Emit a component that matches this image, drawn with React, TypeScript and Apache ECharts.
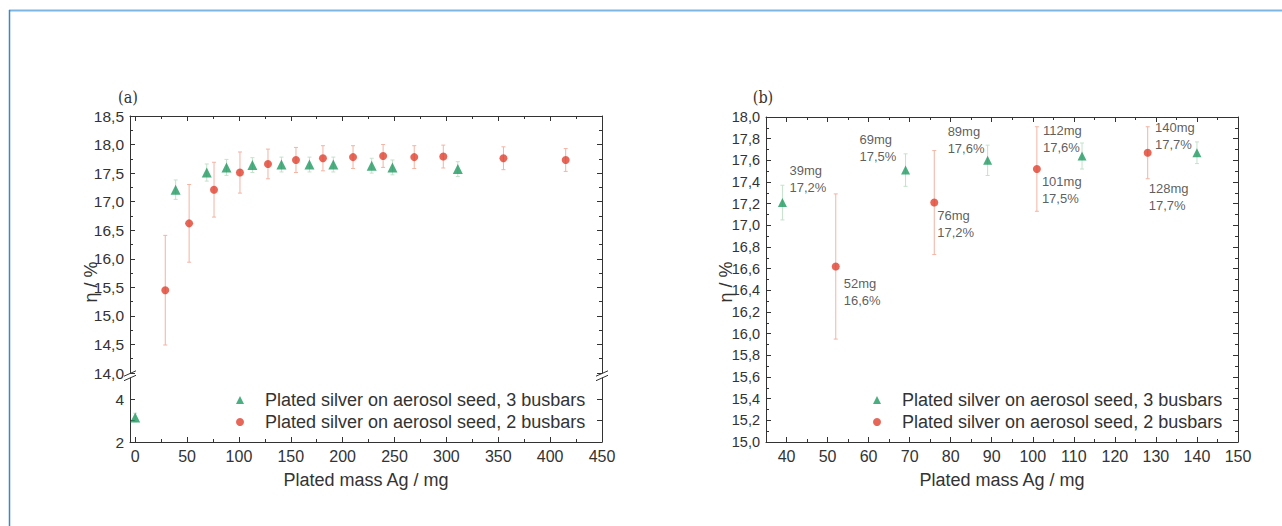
import React, { useEffect, useRef } from 'react';
import * as echarts from 'echarts';

const NAME_3BB = 'Plated silver on aerosol seed, 3 busbars';
const NAME_2BB = 'Plated silver on aerosol seed, 2 busbars';

// ---- Panel (a) data ----
const aMass3 = [39, 69, 88, 113, 141, 168, 191, 228, 248, 311];
const aEta3 = [17.21, 17.51, 17.6, 17.64, 17.65, 17.65, 17.65, 17.63, 17.6, 17.57];
const aErr3 = [0.17, 0.15, 0.14, 0.13, 0.13, 0.13, 0.13, 0.13, 0.13, 0.13];
const aSeedMass = [0];
const aSeedEta = [3.15];
const aSeedErr = [0.2];
const aMass2 = [29, 52, 76, 101, 128, 155, 181, 210, 239, 269, 297, 355, 415];
const aEta2 = [15.45, 16.62, 17.21, 17.51, 17.66, 17.73, 17.76, 17.78, 17.8, 17.78, 17.79, 17.76, 17.73];
const aErr2 = [0.96, 0.68, 0.48, 0.36, 0.26, 0.22, 0.22, 0.2, 0.2, 0.2, 0.2, 0.2, 0.2];

const aXTicks = [0, 50, 100, 150, 200, 250, 300, 350, 400, 450];
const aXMinor = [25, 75, 125, 175, 225, 275, 325, 375, 425];
const aYLowTicks = [2, 3, 4];
const aYLowLabels = [2, 4];

// ---- Panel (b) data ----
const bMass3 = [39, 69, 89, 112, 140];
const bEta3 = [17.21, 17.51, 17.6, 17.64, 17.67];
const bErr3 = [0.16, 0.15, 0.14, 0.12, 0.1];
const bMass2 = [52, 76, 101, 128];
const bEta2 = [16.62, 17.21, 17.52, 17.67];
const bErr2 = [0.67, 0.48, 0.39, 0.24];

const bXTicks = [40, 50, 60, 70, 80, 90, 100, 110, 120, 130, 140, 150];
const bXMinor = [35, 45, 55, 65, 75, 85, 95, 105, 115, 125, 135, 145];

// label offsets (text top-left relative to point centre), layout only
const bLabelOff3 = [[7, -41], [-46, -39], [-40, -37], [-39, -34], [-42, -34]];
const bLabelOff2 = [[8, 8], [3, 4], [5, 4], [1, 27]];

const GREEN = '#1f9a60';
const RED = '#e0402e';
const GREEN_ERR = '#c3e2cb';
const RED_ERR = '#f4b3a2';
const AXIS = '#333';
const FONT = 'Liberation Sans, Arial, sans-serif';

const comma = (v: number) => v.toFixed(1).replace('.', ',');

function errSeries(xIdx: number, yIdx: number, mass: number[], eta: number[], err: number[], color: string) {
  return {
    type: 'custom',
    xAxisIndex: xIdx,
    yAxisIndex: yIdx,
    silent: true,
    z: 1,
    data: mass.map((m, i) => [m, eta[i] - err[i], eta[i] + err[i]]),
    renderItem: (_p: any, api: any) => {
      const lo = api.coord([api.value(0), api.value(1)]);
      const hi = api.coord([api.value(0), api.value(2)]);
      const w = 2;
      const st = { stroke: color, lineWidth: 1 };
      return {
        type: 'group',
        children: [
          { type: 'line', shape: { x1: lo[0], y1: lo[1], x2: hi[0], y2: hi[1] }, style: st },
          { type: 'line', shape: { x1: lo[0] - w, y1: lo[1], x2: lo[0] + w, y2: lo[1] }, style: st },
          { type: 'line', shape: { x1: hi[0] - w, y1: hi[1], x2: hi[0] + w, y2: hi[1] }, style: st },
        ],
      };
    },
  };
}

const tickStyle = { lineStyle: { color: AXIS, width: 1 } };

function xAxisDef(grid: number, pos: string, min: number, max: number, ticks: number[], len: number, showLine: boolean, labels: boolean, name?: string) {
  return {
    type: 'value',
    gridIndex: grid,
    position: pos,
    min,
    max,
    axisLine: { show: showLine, onZero: false, lineStyle: { color: AXIS, width: 1 } },
    axisTick: { show: true, inside: true, length: len, customValues: ticks, ...tickStyle },
    axisLabel: labels
      ? { show: true, customValues: ticks, color: AXIS, fontSize: 16, fontFamily: FONT, margin: 6 }
      : { show: false },
    splitLine: { show: false },
    name: name || '',
    nameLocation: 'middle',
    nameGap: 29,
    nameTextStyle: { fontSize: 18, color: AXIS, fontFamily: FONT },
  };
}

function yAxisDef(grid: number, pos: string, min: number, max: number, interval: number, labels: boolean, fontSize: number) {
  return {
    type: 'value',
    gridIndex: grid,
    position: pos,
    min,
    max,
    interval,
    axisLine: { show: true, onZero: false, lineStyle: { color: AXIS, width: 1 } },
    axisTick: { show: true, inside: true, length: 5, ...tickStyle },
    minorTick: { show: true, splitNumber: 2, length: 3, lineStyle: { color: AXIS, width: 1 } },
    axisLabel: labels
      ? { show: true, color: AXIS, fontSize, fontFamily: FONT, margin: 6, formatter: (v: number) => comma(v) }
      : { show: false },
    splitLine: { show: false },
  };
}

function lowYAxisDef(pos: string, labels: boolean) {
  return {
    type: 'value',
    gridIndex: 1,
    position: pos,
    min: 2,
    max: 5,
    axisLine: { show: true, onZero: false, lineStyle: { color: AXIS, width: 1 } },
    axisTick: { show: true, inside: true, length: 5, customValues: aYLowTicks, ...tickStyle },
    axisLabel: labels
      ? { show: true, customValues: aYLowLabels, color: AXIS, fontSize: 15.5, fontFamily: FONT, margin: 6 }
      : { show: false },
    splitLine: { show: false },
  };
}

function breakMarks(x: number) {
  const st = { stroke: AXIS, lineWidth: 1 };
  return [
    { type: 'line', shape: { x1: x - 6, y1: 376.2, x2: x + 6, y2: 370.8 }, style: st },
    { type: 'line', shape: { x1: x - 6, y1: 380.7, x2: x + 6, y2: 375.3 }, style: st },
  ];
}

export default function App() {
  const ref = useRef<HTMLDivElement>(null);
  useEffect(() => {
    if (!ref.current) return;
    const chart = echarts.init(ref.current, undefined, { renderer: 'svg' });

    const labelData = (mass: number[], eta: number[], off: number[][], size: number) =>
      mass.map((m, i) => ({
        value: [m, eta[i]],
        label: {
          show: true,
          position: [off[i][0] + size / 2, off[i][1] + size / 2],
          align: 'left',
          verticalAlign: 'top',
          formatter: `${m}mg\n${comma(eta[i])}%`,
          fontSize: 13,
          lineHeight: 17,
          color: AXIS,
          fontFamily: FONT,
        },
      }));

    const legendCommon = {
      orient: 'vertical',
      itemWidth: 8,
      itemHeight: 8,
      itemGap: 4,
      selectedMode: false,
      textStyle: { fontSize: 18, color: AXIS, fontFamily: FONT, lineHeight: 18, padding: [0, 0, 0, 16] },
      data: [
        { name: NAME_3BB, icon: 'triangle' },
        { name: NAME_2BB, icon: 'circle' },
      ],
    };

    chart.setOption({
      animation: false,
      backgroundColor: '#ffffff',
      grid: [
        { left: 130, top: 116, width: 472, height: 257 },
        { left: 130, top: 378, width: 472, height: 64 },
        { left: 766, top: 117, width: 472, height: 325 },
      ],
      xAxis: [
        xAxisDef(0, 'top', -5, 450, aXTicks, 5, true, false),
        xAxisDef(0, 'top', -5, 450, aXMinor, 3, false, false),
        xAxisDef(1, 'bottom', -5, 450, aXTicks, 5, true, true, 'Plated mass Ag / mg'),
        xAxisDef(1, 'bottom', -5, 450, aXMinor, 3, false, false),
        xAxisDef(2, 'bottom', 35, 150, bXTicks, 5, true, true, 'Plated mass Ag / mg'),
        xAxisDef(2, 'bottom', 35, 150, bXMinor, 3, false, false),
        xAxisDef(2, 'top', 35, 150, bXTicks, 5, true, false),
        xAxisDef(2, 'top', 35, 150, bXMinor, 3, false, false),
      ],
      yAxis: [
        yAxisDef(0, 'left', 14, 18.5, 0.5, true, 15.5),
        yAxisDef(0, 'right', 14, 18.5, 0.5, false, 15.5),
        lowYAxisDef('left', true),
        lowYAxisDef('right', false),
        yAxisDef(2, 'left', 15, 18, 0.2, true, 14.5),
        yAxisDef(2, 'right', 15, 18, 0.2, false, 14.5),
      ],
      legend: [
        { ...legendCommon, left: 231, top: 386 },
        { ...legendCommon, left: 868, top: 386 },
      ],
      series: [
        errSeries(0, 0, aMass2, aEta2, aErr2, RED_ERR),
        errSeries(0, 0, aMass3, aEta3, aErr3, GREEN_ERR),
        errSeries(2, 2, aSeedMass, aSeedEta, aSeedErr, GREEN_ERR),
        {
          name: NAME_3BB, type: 'scatter', xAxisIndex: 0, yAxisIndex: 0,
          symbol: 'triangle', symbolSize: 10, itemStyle: { color: GREEN },
          data: aMass3.map((m, i) => [m, aEta3[i]]), z: 3,
        },
        {
          name: NAME_3BB, type: 'scatter', xAxisIndex: 2, yAxisIndex: 2,
          symbol: 'triangle', symbolSize: 10, itemStyle: { color: GREEN },
          data: aSeedMass.map((m, i) => [m, aSeedEta[i]]), z: 3,
        },
        {
          name: NAME_2BB, type: 'scatter', xAxisIndex: 0, yAxisIndex: 0,
          symbol: 'circle', symbolSize: 8, itemStyle: { color: RED },
          data: aMass2.map((m, i) => [m, aEta2[i]]), z: 3,
        },
        errSeries(4, 4, bMass2, bEta2, bErr2, RED_ERR),
        errSeries(4, 4, bMass3, bEta3, bErr3, GREEN_ERR),
        {
          name: NAME_3BB, type: 'scatter', xAxisIndex: 4, yAxisIndex: 4,
          symbol: 'triangle', symbolSize: 9, itemStyle: { color: GREEN },
          data: labelData(bMass3, bEta3, bLabelOff3, 9), z: 3,
        },
        {
          name: NAME_2BB, type: 'scatter', xAxisIndex: 4, yAxisIndex: 4,
          symbol: 'circle', symbolSize: 8, itemStyle: { color: RED },
          data: labelData(bMass2, bEta2, bLabelOff2, 8), z: 3,
        },
      ],
      graphic: [
        { type: 'line', shape: { x1: 9, y1: 10.5, x2: 1282, y2: 10.5 }, style: { stroke: '#7db5e3', lineWidth: 2 } },
        { type: 'line', shape: { x1: 9.5, y1: 10, x2: 9.5, y2: 526 }, style: { stroke: '#3b87c9', lineWidth: 1.5 } },
        ...breakMarks(130),
        ...breakMarks(602),
        {
          type: 'text', x: 91, y: 282, rotation: Math.PI / 2,
          style: { text: 'η / %', fontSize: 18, fill: AXIS, fontFamily: FONT, align: 'center', verticalAlign: 'middle' },
        },
        {
          type: 'text', x: 726, y: 282, rotation: Math.PI / 2,
          style: { text: 'η / %', fontSize: 18, fill: AXIS, fontFamily: FONT, align: 'center', verticalAlign: 'middle' },
        },
        {
          type: 'text', x: 128, y: 97,
          style: { text: '(a)', fontSize: 16, fill: '#333', fontFamily: 'DejaVu Serif Condensed, Liberation Serif, serif', align: 'center', verticalAlign: 'middle' },
        },
        {
          type: 'text', x: 763, y: 97,
          style: { text: '(b)', fontSize: 16, fill: '#333', fontFamily: 'DejaVu Serif Condensed, Liberation Serif, serif', align: 'center', verticalAlign: 'middle' },
        },
      ],
    });
    return () => chart.dispose();
  }, []);

  return <div ref={ref} style={{ position: 'absolute', left: 0, top: 0, width: 1282, height: 526 }} />;
}
